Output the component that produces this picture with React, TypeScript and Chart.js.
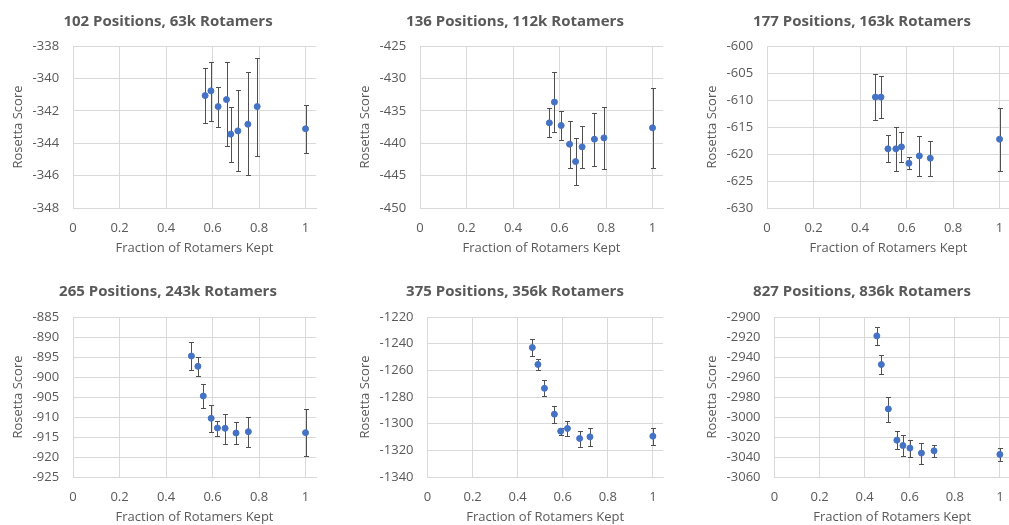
import React, { useEffect, useRef } from "react";
import { Chart, registerables } from "chart.js";

Chart.register(...registerables);

// ---------- data ----------
const titles = [
  "102 Positions, 63k Rotamers",
  "136 Positions, 112k Rotamers",
  "177 Positions, 163k Rotamers",
  "265 Positions, 243k Rotamers",
  "375 Positions, 356k Rotamers",
  "827 Positions, 836k Rotamers",
];

const xTickValues = [0, 0.2, 0.4, 0.6, 0.8, 1];
const xMax = 1.045;

const yMins = [-348, -450, -630, -925, -1340, -3060];
const yMaxs = [-338, -425, -600, -885, -1220, -2900];
const ySteps = [2, 5, 5, 5, 20, 20];

const p1X = [0.568, 0.593, 0.624, 0.66, 0.678, 0.709, 0.752, 0.792, 1.0];
const p1Y = [-341.06, -340.77, -341.74, -341.31, -343.44, -343.24, -342.83, -341.74, -343.11];
const p1Top = [-339.33, -338.99, -340.55, -339.0, -341.74, -340.73, -339.62, -338.72, -341.66];
const p1Bot = [-342.76, -342.62, -342.97, -344.2, -345.13, -345.7, -345.97, -344.82, -344.59];

const p2X = [0.556, 0.578, 0.607, 0.643, 0.669, 0.697, 0.75, 0.791, 1.0];
const p2Y = [-436.86, -433.66, -437.27, -440.15, -442.84, -440.57, -439.38, -439.18, -437.63];
const p2Top = [-434.6, -429.07, -435.05, -436.55, -439.18, -437.32, -435.36, -434.48, -431.44];
const p2Bot = [-439.07, -438.25, -439.54, -443.82, -446.39, -443.82, -443.45, -443.97, -443.82];

const p3X = [0.466, 0.49, 0.52, 0.554, 0.578, 0.61, 0.655, 0.702, 1.0];
const p3Y = [-609.46, -609.46, -619.05, -619.05, -618.68, -621.71, -620.35, -620.78, -617.26];
const p3Top = [-605.19, -605.5, -616.51, -614.97, -615.84, -620.53, -616.7, -617.63, -611.44];
const p3Bot = [-613.79, -613.42, -621.52, -623.13, -621.52, -622.82, -624.12, -624.0, -623.07];

const p4X = [0.509, 0.537, 0.56, 0.594, 0.621, 0.654, 0.701, 0.754, 1.0];
const p4Y = [-894.75, -897.33, -904.75, -910.33, -912.75, -912.83, -914.0, -913.67, -913.92];
const p4Top = [-891.25, -895.08, -901.83, -906.92, -910.92, -909.17, -911.25, -909.92, -908.0];
const p4Bot = [-898.33, -899.67, -907.75, -913.75, -914.67, -916.75, -916.75, -917.42, -919.75];

const p5X = [0.465, 0.49, 0.519, 0.563, 0.591, 0.621, 0.675, 0.721, 1.0];
const p5Y = [-1242.9, -1255.6, -1273.5, -1292.9, -1305.6, -1303.6, -1311.1, -1309.9, -1309.4];
const p5Top = [-1236.2, -1251.6, -1267.5, -1286.5, -1303.1, -1297.9, -1305.6, -1302.9, -1303.1];
const p5Bot = [-1249.6, -1260.1, -1279.5, -1299.2, -1308.6, -1309.6, -1317.3, -1316.6, -1315.8];

const p6X = [0.454, 0.474, 0.505, 0.543, 0.57, 0.601, 0.652, 0.708, 1.0];
const p6Y = [-2918.9, -2947.5, -2991.9, -3023.2, -3028.5, -3031.1, -3036.1, -3033.8, -3037.4];
const p6Top = [-2910.0, -2937.8, -2979.7, -3014.2, -3017.8, -3023.2, -3025.5, -3027.5, -3030.5];
const p6Bot = [-2927.6, -2957.1, -3004.6, -3031.8, -3039.1, -3040.1, -3047.1, -3040.4, -3044.4];

const panelX = [p1X, p2X, p3X, p4X, p5X, p6X];
const panelY = [p1Y, p2Y, p3Y, p4Y, p5Y, p6Y];
const panelTop = [p1Top, p2Top, p3Top, p4Top, p5Top, p6Top];
const panelBot = [p1Bot, p2Bot, p3Bot, p4Bot, p5Bot, p6Bot];

// ---------- styling ----------
const FONT = "'Open Sans', 'Noto Sans', sans-serif";
const TEXT = "#595959";
const GRID = "#D9D9D9";
const MARKER = "#4472C4";
const ERR = "#505050";
const CLEAR = "rgba(0,0,0,0)";

const PANEL_W = 347;
const PANEL_H = 262;
const ROW_GAP = 270;
const TITLE_SPAN = 336;

function makeErrorPlugin(tops: number[], bots: number[]) {
  return {
    id: "errorBars",
    beforeDatasetsDraw(chart: any) {
      const { ctx, scales } = chart;
      const xs = scales.x;
      const ys = scales.y;
      const ds = chart.data.datasets[0];
      ctx.save();
      ctx.strokeStyle = ERR;
      ctx.lineWidth = 1;
      ds.data.forEach((pt: any, i: number) => {
        const px = Math.round(xs.getPixelForValue(pt.x)) + 0.5;
        const yt = Math.round(ys.getPixelForValue(tops[i])) + 0.5;
        const yb = Math.round(ys.getPixelForValue(bots[i])) + 0.5;
        ctx.beginPath();
        ctx.moveTo(px, yt);
        ctx.lineTo(px, yb);
        ctx.moveTo(px - 2.5, yt);
        ctx.lineTo(px + 2.5, yt);
        ctx.moveTo(px - 2.5, yb);
        ctx.lineTo(px + 2.5, yb);
        ctx.stroke();
      });
      ctx.restore();
    },
  };
}

const titleSpanPlugin = {
  id: "titleSpan",
  afterLayout(chart: any) {
    const tb = chart.titleBlock;
    if (tb) {
      tb.left = 0;
      tb.right = TITLE_SPAN;
      tb.width = TITLE_SPAN;
    }
  },
};

function Panel({ index }: { index: number }) {
  const ref = useRef<HTMLCanvasElement | null>(null);
  const row = Math.floor(index / 3);
  const col = index % 3;
  const height = row === 0 ? PANEL_H : PANEL_H - 1;

  useEffect(() => {
    if (!ref.current) return;
    const xs = panelX[index];
    const ysv = panelY[index];
    const data = xs.map((x, i) => ({ x, y: ysv[i] }));
    const chart = new Chart(ref.current, {
      type: "scatter",
      data: {
        datasets: [
          {
            data,
            backgroundColor: MARKER,
            borderColor: MARKER,
            borderWidth: 1,
            pointRadius: 3,
            pointHoverRadius: 3,
          },
        ],
      },
      options: {
        responsive: false,
        animation: false,
        events: [],
        layout: { padding: { left: 3, right: 31, top: 0, bottom: 0 } },
        plugins: {
          legend: { display: false },
          tooltip: { enabled: false },
          title: {
            display: true,
            text: titles[index],
            color: TEXT,
            font: { family: FONT, size: 15, weight: "bold" },
            padding: { top: 13, bottom: row === 0 ? 15 : 16 },
          },
        },
        scales: {
          x: {
            type: "linear",
            min: 0,
            max: xMax,
            afterBuildTicks: (axis: any) => {
              axis.ticks = xTickValues.map((v) => ({ value: v }));
            },
            ticks: {
              color: TEXT,
              font: { family: FONT, size: 13 },
              padding: 2,
              callback: (v: any) => String(Math.round(Number(v) * 10) / 10),
            },
            grid: { color: GRID, drawTicks: true, tickLength: 10, tickColor: CLEAR },
            border: { color: GRID },
            title: {
              display: true,
              text: "Fraction of Rotamers Kept",
              color: TEXT,
              font: { family: FONT, size: 13 },
              padding: { top: 2.6, bottom: 6.2 },
            },
          },
          y: {
            type: "linear",
            min: yMins[index],
            max: yMaxs[index],
            ticks: {
              stepSize: ySteps[index],
              color: TEXT,
              font: { family: FONT, size: 13 },
              padding: 2,
              callback: (v: any) => String(v),
            },
            grid: { color: GRID, drawTicks: true, tickLength: 12, tickColor: CLEAR },
            border: { color: GRID },
            title: {
              display: true,
              text: "Rosetta Score",
              color: TEXT,
              font: { family: FONT, size: 13 },
              padding: { top: 7, bottom: 5 },
            },
          },
        },
      },
      plugins: [titleSpanPlugin, makeErrorPlugin(panelTop[index], panelBot[index])],
    } as any);
    return () => chart.destroy();
  }, [index]);

  return (
    <canvas
      ref={ref}
      width={PANEL_W}
      height={height}
      style={{
        position: "absolute",
        left: col * PANEL_W,
        top: row * ROW_GAP,
        width: PANEL_W,
        height,
      }}
    />
  );
}

export default function App() {
  return (
    <div
      style={{
        position: "absolute",
        left: 0,
        top: 0,
        width: 1009,
        height: 525,
        overflow: "hidden",
        background: "#ffffff",
      }}
    >
      {titles.map((_, i) => (
        <Panel key={i} index={i} />
      ))}
    </div>
  );
}
